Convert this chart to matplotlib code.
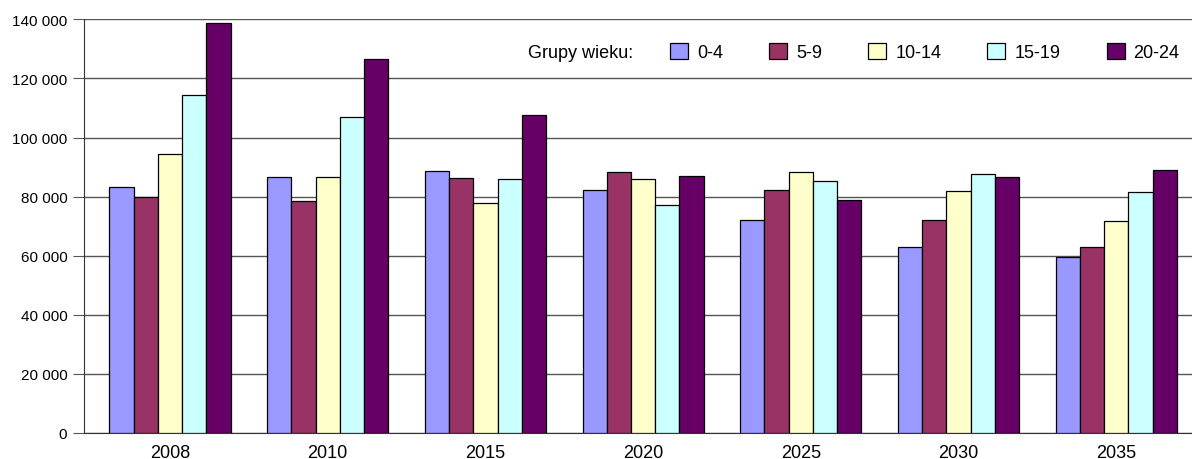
import numpy as np
import matplotlib
matplotlib.use('Agg')
import matplotlib.pyplot as plt
from matplotlib.ticker import FuncFormatter

plt.rcParams['font.family'] = ['Liberation Sans', 'DejaVu Sans']
plt.rcParams['font.size'] = 11

years = ['2008', '2010', '2015', '2020', '2025', '2030', '2035']
groups = ['0-4', '5-9', '10-14', '15-19', '20-24']

g0_4 = [83300, 86700, 88600, 82200, 72100, 62900, 59500]
g5_9 = [80000, 78600, 86200, 88400, 82200, 72100, 62900]
g10_14 = [94400, 86700, 77800, 86000, 88200, 82000, 71900]
g15_19 = [114500, 106800, 85800, 77300, 85200, 87800, 81600]
g20_24 = [138800, 126500, 107700, 87100, 78800, 86800, 89000]

series = [g0_4, g5_9, g10_14, g15_19, g20_24]
colors = ['#9999FF', '#993366', '#FFFFCC', '#CCFFFF', '#660066']

W, H = 1192, 460
fig = plt.figure(figsize=(W / 100, H / 100), dpi=100)
ax = fig.add_axes([84 / W, 1 - 434 / H, (1192 - 84) / W, (434 - 20.3) / H])

x = np.arange(len(years))
bw = 0.1535
for i, (vals, c) in enumerate(zip(series, colors)):
    ax.bar(x + (i - 2) * bw, vals, width=bw, color=c, edgecolor='black',
           linewidth=0.9, label=groups[i], zorder=3)

ax.set_ylim(0, 140000)
ax.set_xlim(-(170 - 84) / 157.7, (1192 - 170) / 157.7)
ax.set_yticks(np.arange(0, 140001, 20000))
ax.yaxis.set_major_formatter(FuncFormatter(lambda v, p: f"{int(v):,}".replace(',', ' ')))
ax.set_xticks(x)
ax.set_xticklabels(years, fontsize=13)
ax.tick_params(axis='x', length=0, pad=8)
ax.tick_params(axis='y', length=8, color='#555555', pad=4)
ax.grid(axis='y', color='#555555', linewidth=1, zorder=0)
for s in ['top', 'right']:
    ax.spines[s].set_visible(False)
ax.spines['left'].set_color('#333333')
ax.spines['bottom'].set_color('#333333')

fig.text(633 / W, 1 - 53 / H, 'Grupy wieku:', ha='right', va='center', fontsize=13)
ax.legend(loc='center left', bbox_to_anchor=(670 / W, 1 - 53 / H),
          bbox_transform=fig.transFigure, ncol=5, frameon=False,
          borderpad=0, borderaxespad=0, handlelength=1.0, handleheight=1.05,
          handletextpad=0.5, columnspacing=2.55, fontsize=13)

fig.savefig('out.png', dpi=100)
